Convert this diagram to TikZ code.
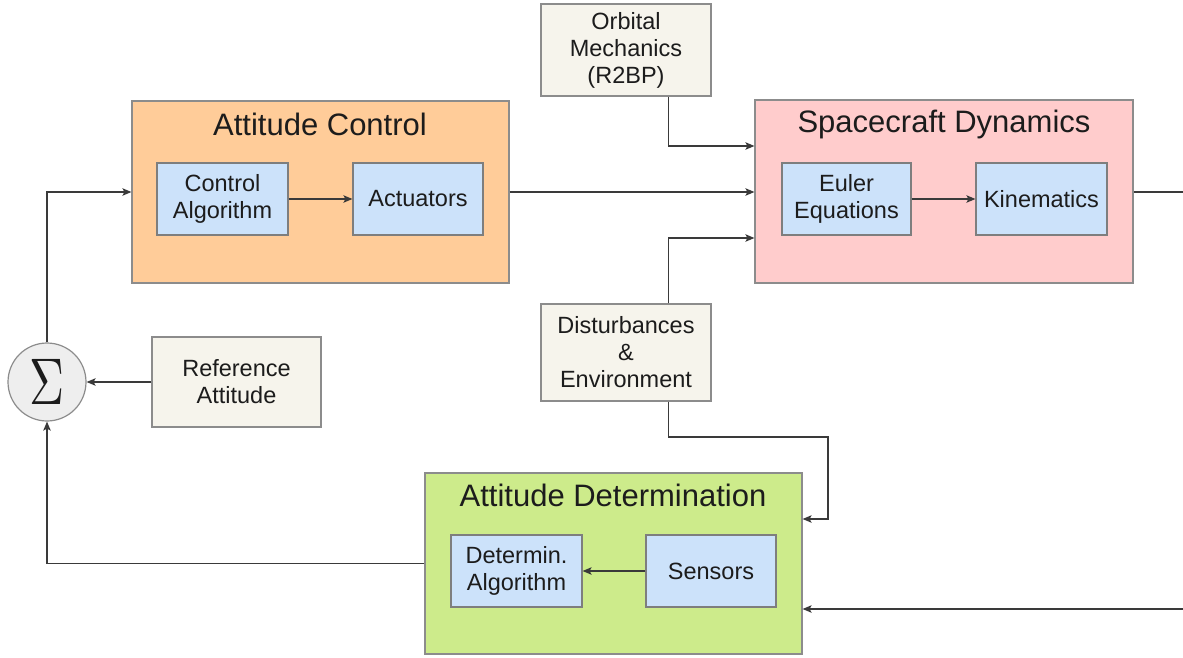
\documentclass[tikz,border=0pt]{standalone}
\usepackage{fontspec}
\usepackage{graphicx}
\setmainfont{Liberation Sans}
\usetikzlibrary{arrows.meta,calc}

\definecolor{linegray}{HTML}{3A3A3A}
\definecolor{boxedge}{HTML}{8C8C8C}
\definecolor{ctrlfill}{HTML}{FFCC99}
\definecolor{dynfill}{HTML}{FFCCCC}
\definecolor{detfill}{HTML}{CDEB8B}
\definecolor{subfill}{HTML}{CCE2FA}
\definecolor{extfill}{HTML}{F6F4EC}
\definecolor{sumfill}{HTML}{EEEEEE}
\definecolor{txt}{HTML}{1C1C1C}

\tikzset{
  blk/.style={draw=boxedge, line width=1.2pt, inner sep=0pt, align=center,
              text=txt, font=\fontsize{23.5}{27}\selectfont},
  group/.style={blk},
  subblk/.style={blk, fill=subfill, draw=boxedge!90!black},
  extblk/.style={blk, fill=extfill},
  grouptitle/.style={text=txt, inner sep=0pt, font=\fontsize{31}{36}\selectfont},
  wire/.style={draw=linegray, line width=1.2pt},
  arr/.style={wire, -{Stealth[length=9pt,width=7.5pt,inset=2pt]}},
}

\begin{document}
\begin{tikzpicture}[x=1pt, y=-1pt]
  \useasboundingbox (0,0) rectangle (1183,658);

  % --- attitude control group ---
  \node[group, fill=ctrlfill, minimum width=377pt, minimum height=182pt] (ac) at (320.5,192) {};
  \node[grouptitle] (actitle) at (320,124) {Attitude Control};
  \node[subblk, minimum width=131pt, minimum height=72pt] (ctrl) at (222.5,199) {Control\\Algorithm};
  \node[subblk, minimum width=130pt, minimum height=72pt] (act) at (418,199) {Actuators};

  % --- spacecraft dynamics group ---
  \node[group, fill=dynfill, minimum width=378pt, minimum height=183pt] (sd) at (944,191.5) {};
  \node[grouptitle] (sdtitle) at (944,124) {Spacecraft Dynamics};
  \node[subblk, minimum width=129pt, minimum height=72pt] (euler) at (846.5,199) {Euler\\Equations};
  \node[subblk, minimum width=131pt, minimum height=72pt] (kin) at (1041.5,199) {Kinematics};

  % --- attitude determination group ---
  \node[group, fill=detfill, minimum width=377pt, minimum height=181pt] (ad) at (613.5,563.5) {};
  \node[grouptitle] (adtitle) at (613,495) {Attitude Determination};
  \node[subblk, minimum width=131pt, minimum height=72pt] (det) at (516.5,571) {Determin.\\Algorithm};
  \node[subblk, minimum width=130pt, minimum height=72pt] (sens) at (711,571) {Sensors};

  % --- external inputs ---
  \node[extblk, minimum width=170pt, minimum height=92pt] (orbit) at (626,50) {Orbital\\Mechanics\\(R2BP)};
  \node[extblk, minimum width=170pt, minimum height=97pt] (dist) at (626,352.5) {Disturbances\\\&\\Environment};
  \node[extblk, minimum width=169pt, minimum height=90pt] (ref) at (236.5,382) {Reference\\Attitude};

  % --- summing junction ---
  \node[circle, draw=boxedge, line width=1.2pt, fill=sumfill, minimum size=78pt, inner sep=0pt,
        text=txt] (sum) at (47,382) {\scalebox{4.85}[6.6]{$\Sigma$}};

  % --- free ends and bends ---
  \coordinate (sdout) at (1183,192);
  \coordinate (adin) at (1183,609);
  \coordinate (dturn) at (828,437);

  % --- forward path ---
  \draw[arr] (sum.north) |- (ac.west);
  \draw[arr] (ctrl.east) -- (act.west);
  \draw[arr] (ac.east) -- (ac.east -| sd.west);
  \draw[arr] (euler.east) -- (kin.west);
  \draw[wire] (sd.east |- sdout) -- (sdout);

  % --- external influences ---
  \draw[arr] ([xshift=-43pt]orbit.south east) |- ([yshift=45.5pt]sd.west);
  \draw[arr] ([xshift=-43pt]dist.north east) |- ([yshift=-46.5pt]sd.west);
  \draw[arr] ([xshift=-43pt]dist.south east) |- (dturn) |- ([yshift=44.5pt]ad.east);

  % --- feedback path ---
  \draw[arr] (adin) -- (adin -| ad.east);
  \draw[arr] (sens.west) -- (det.east);
  \draw[arr] (ad.west) -| (sum.south);
  \draw[arr] (ref.west) -- (sum.east);
\end{tikzpicture}
\end{document}
